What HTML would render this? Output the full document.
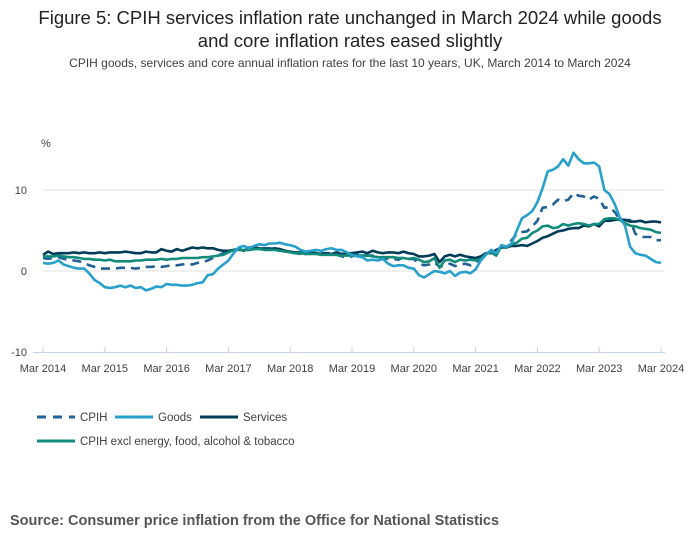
<!DOCTYPE html>
<html><head><meta charset="utf-8"><style>
body{margin:0;background:#fff;font-family:"Liberation Sans",sans-serif;}
.t{position:absolute;left:0;width:700px;text-align:center;color:#222;}
</style></head><body>
<div style="position:relative;width:700px;height:549px;overflow:hidden">
<div class="t" style="top:6px;font-size:18.5px;line-height:23px">Figure 5: CPIH services inflation rate unchanged in March 2024 while goods<br>and core inflation rates eased slightly</div>
<div class="t" style="top:56px;font-size:12px;color:#414042">CPIH goods, services and core annual inflation rates for the last 10 years, UK, March 2014 to March 2024</div>
<svg id="c" width="700" height="549" style="position:absolute;left:0;top:0"></svg>
<div style="position:absolute;left:10px;top:513px;font-size:14.5px;font-weight:bold;color:#555">Source: Consumer price inflation from the Office for National Statistics</div>
</div>
<script>
const xTicks=["Mar 2014","Mar 2015","Mar 2016","Mar 2017","Mar 2018","Mar 2019","Mar 2020","Mar 2021","Mar 2022","Mar 2023","Mar 2024"];
const yTicks=[-10,0,10];
const cpih=[1.6,1.5,1.6,1.7,1.5,1.4,1.3,1.2,1.0,0.7, 0.5,0.3,0.3,0.3,0.3,0.4,0.4,0.4,0.3,0.4,0.5,0.5, 0.6,0.5,0.6,0.7,0.7,0.8,0.9,0.8,1.0,1.1,1.3,1.6, 1.9,2.2,2.3,2.6,2.7,2.6,2.6,2.7,2.8,2.8,2.8,2.7, 2.7,2.5,2.3,2.2,2.1,2.2,2.3,2.5,2.2,2.2,2.2,2.0, 1.8,1.7,1.8,2.0,1.9,1.9,1.9,1.7,1.6,1.5,1.5,1.4, 1.7,1.5,1.5,0.9,0.7,0.8,1.1,0.5,0.7,0.9,0.6,0.8, 0.9,0.7,1.0,1.6,2.1,2.4,2.1,3.0,2.9,3.8,4.6,4.8, 4.9,5.5,6.2,7.8,7.9,8.2,8.8,8.6,8.8,9.6,9.3,9.2, 8.8,9.2,8.9,7.8,7.9,7.3,6.4,6.3,6.3,4.6,4.2,4.2, 4.2,3.8,3.8];
const goods=[1.0,0.9,1.0,1.3,0.8,0.6,0.4,0.3,0.3,-0.3, -1.1,-1.5,-2.0,-2.1,-2.0,-1.8,-2.0,-1.8,-2.1,-2.0,-2.4,-2.2, -1.9,-2.0,-1.6,-1.7,-1.7,-1.8,-1.8,-1.7,-1.5,-1.4,-0.5,-0.4, 0.3,0.8,1.3,2.2,2.9,3.1,2.8,3.1,3.3,3.2,3.4,3.4, 3.5,3.3,3.2,3.0,2.6,2.4,2.5,2.6,2.5,2.7,2.8,2.6, 2.6,2.3,2.0,1.8,1.7,1.3,1.4,1.3,1.5,0.9,0.6,0.7, 0.7,0.4,0.3,-0.5,-0.8,-0.4,0.0,-0.1,-0.3,0.0,-0.6,-0.2, -0.1,-0.3,0.2,1.3,2.0,2.6,2.2,3.2,3.0,3.4,5.0,6.5, 6.9,7.4,8.5,10.2,12.3,12.5,12.9,13.8,13.0,14.6,13.8,13.3, 13.3,13.4,12.9,10.0,9.5,8.3,6.6,5.6,3.0,2.2,2.0,1.9, 1.5,1.1,1.0];
const services=[2.0,2.4,2.1,2.2,2.2,2.2,2.3,2.2,2.3,2.2, 2.2,2.3,2.2,2.3,2.3,2.3,2.4,2.3,2.2,2.2,2.4,2.3, 2.3,2.7,2.5,2.4,2.7,2.5,2.7,2.9,2.8,2.9,2.8,2.8, 2.6,2.5,2.5,2.6,2.7,2.5,2.9,2.9,2.8,2.7,2.7,2.8, 2.7,2.5,2.4,2.3,2.3,2.1,2.2,2.2,2.1,2.2,2.1,2.3, 2.1,2.2,2.2,2.3,2.4,2.2,2.5,2.3,2.2,2.3,2.3,2.2, 2.4,2.2,2.1,1.8,1.8,1.9,2.1,1.1,1.8,2.0,1.8,2.0, 1.8,1.7,1.6,1.8,2.2,2.2,2.6,2.9,2.9,3.1,3.1,3.2, 3.1,3.4,3.7,4.1,4.3,4.6,4.9,5.0,5.2,5.3,5.3,5.6, 5.5,5.8,5.5,6.2,6.2,6.3,6.4,6.3,6.1,6.1,6.2,6.0, 6.1,6.1,6.0];
const core=[1.8,1.8,1.8,1.9,1.8,1.7,1.7,1.6,1.5,1.5, 1.4,1.4,1.3,1.4,1.2,1.2,1.2,1.2,1.3,1.3,1.4,1.4, 1.4,1.5,1.4,1.5,1.5,1.6,1.6,1.6,1.6,1.7,1.7,1.8, 1.9,2.0,2.3,2.6,2.6,2.6,2.6,2.7,2.7,2.6,2.6,2.6, 2.5,2.4,2.3,2.2,2.2,2.1,2.1,2.1,2.0,2.0,2.0,2.0, 1.9,1.9,1.9,1.9,1.9,1.9,1.8,1.7,1.7,1.7,1.7,1.6, 1.6,1.5,1.6,1.4,1.1,1.2,1.6,0.4,1.3,1.4,1.1,1.4, 1.3,1.4,1.3,1.5,2.1,2.3,1.9,3.1,2.9,3.3,3.5,4.0, 4.1,4.7,5.0,5.5,5.6,5.3,5.4,5.8,5.6,5.8,5.9,5.8, 5.6,5.8,5.8,6.4,6.5,6.5,6.3,5.9,5.6,5.5,5.3,5.2, 5.1,4.8,4.7];
const NS="http://www.w3.org/2000/svg",svg=document.getElementById('c');
const X0=43,X1=661,Y0=271,K=8.1;
function xs(i){return X0+(X1-X0)*i/120;}
function ys(v){return Y0-v*K;}
function mk(t,a,p){const e=document.createElementNS(NS,t);for(const k in a)e.setAttribute(k,a[k]);(p||svg).appendChild(e);return e;}
const unit=mk('text',{x:41,y:147,'font-size':11,fill:'#414042'});unit.textContent='%';


yTicks.forEach(v=>{
 if(v!==-10){const g=mk('line',{x1:X0,x2:X1+4,y1:ys(v),y2:ys(v),stroke:'#e0e0e0','stroke-width':1});
 
 }
 const t=mk('text',{x:27,y:ys(v)+4,'font-size':11,fill:'#414042','text-anchor':'end'});t.textContent=v;
 
 
});
const ax=mk('line',{x1:X0-10,x2:X1+4,y1:352.5,y2:352.5,stroke:'#c5d3e8','stroke-width':1});


xTicks.forEach((l,i)=>{const x=xs(i*12);
 const tk=mk('line',{x1:x,x2:x,y1:347,y2:353,stroke:'#c5d3e8'});
 
 
 const t=mk('text',{x:x,y:372,'font-size':11,fill:'#414042','text-anchor':'middle'});t.textContent=l;
 
 
});
function line(d,col,name,dash){const p=d.map((v,i)=>(i?'L':'M')+xs(i).toFixed(1)+','+ys(v).toFixed(1)).join('');
 const e=mk('path',{d:p,fill:'none',stroke:col,'stroke-width':2.6,'stroke-linejoin':'round'});if(dash)e.setAttribute('stroke-dasharray',dash);
 
 }
line(cpih,'#206095','cpih-line','9,6');
line(services,'#003c57','services-line');
line(core,'#118c7b','core-line');
line(goods,'#27a0cc','goods-line');
const leg=[['CPIH','#206095',37,417,'9,7'],['Goods','#27a0cc',115,417,''],['Services','#003c57',200,417,''],['CPIH excl energy, food, alcohol & tobacco','#118c7b',37,441,'']];
leg.forEach(([n,c,x,y,d])=>{const g=mk('g',{});
 
 
 const l=mk('line',{x1:x,x2:x+38,y1:y,y2:y,stroke:c,'stroke-width':3},g);if(d)l.setAttribute('stroke-dasharray',d);
 const t=mk('text',{x:x+43,y:y+4,'font-size':11.5,fill:'#414042'},g);t.textContent=n;});
</script>
</body></html>
